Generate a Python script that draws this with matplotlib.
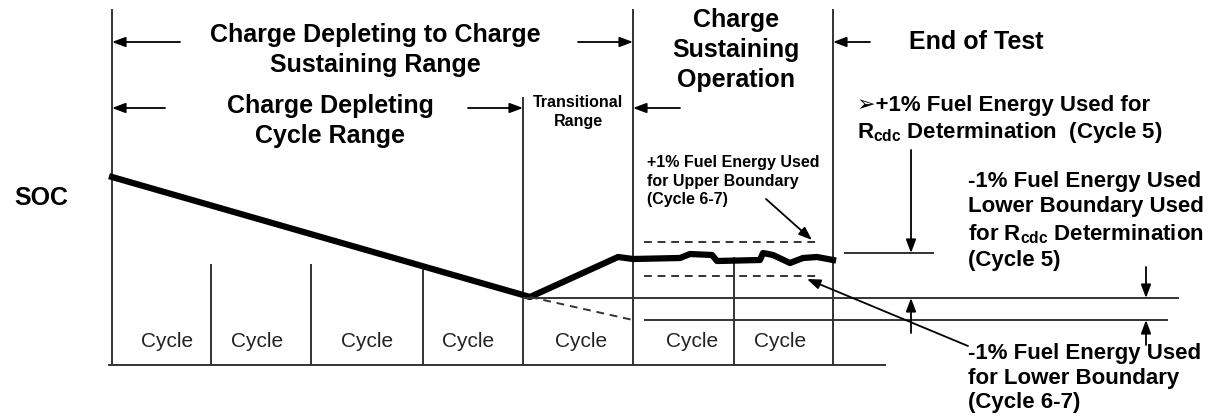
import matplotlib.pyplot as plt

plt.rcParams['font.family'] = ['Liberation Sans', 'DejaVu Sans']
plt.rcParams['mathtext.fontset'] = 'custom'
plt.rcParams['mathtext.rm'] = 'Liberation Sans:bold'
plt.rcParams['mathtext.it'] = 'Liberation Sans:bold'

# SOC trace (pixel-like diagram coordinates, y grows downward)
soc_x = [112, 530, 618, 633, 680, 690, 712, 717, 760, 763, 773, 790, 803, 817, 833]
soc_y = [177, 297, 257, 259, 258, 254, 255, 261, 260, 253, 255, 263, 258, 257, 260]

# region boundaries
x_start, x_trans, x_cs, x_end = 112, 523, 633, 833
base_y = 365
cd_dividers = [211, 311, 423]
cd_div_top = [265, 265, 270]
cs_dividers = [734]
cycle_x = [167, 257, 367, 468, 581, 692, 780]

# boundary levels
upper_dash, lower_dash = 242, 276
rcdc_upper, rcdc_mid, rcdc_lower = 253, 298, 320

fig = plt.figure(figsize=(12.09, 4.19), dpi=100)
ax = fig.add_axes([0, 0, 1, 1])
ax.set_xlim(0, 1209)
ax.set_ylim(419, 0)
ax.axis('off')

lc = '#333333'
lw = 1.4
# frame lines
ax.plot([x_start, x_start], [10, base_y], color=lc, lw=lw)
ax.plot([x_start - 3, 885], [base_y, base_y], color=lc, lw=lw)
ax.plot([x_trans, x_trans], [98, base_y], color=lc, lw=lw)
ax.plot([x_cs, x_cs], [10, base_y], color=lc, lw=lw)
ax.plot([x_end, x_end], [10, base_y], color=lc, lw=lw)
for xd, yt in zip(cd_dividers, cd_div_top):
    ax.plot([xd, xd], [yt, base_y], color=lc, lw=lw)
for xd in cs_dividers:
    ax.plot([xd, xd], [258, base_y], color=lc, lw=lw)

# SOC curve
ax.plot(soc_x, soc_y, color='black', lw=4.5, solid_joinstyle='round')
ax.plot([soc_x[1], x_cs], [soc_y[1], rcdc_lower], color=lc, lw=lw, ls=(0, (4, 3)))

# boundaries
ax.plot([644, 820], [upper_dash, upper_dash], color=lc, lw=lw, ls=(0, (4, 3)))
ax.plot([644, 820], [lower_dash, lower_dash], color=lc, lw=lw, ls=(0, (4, 3)))
ax.plot([845, 933], [rcdc_upper, rcdc_upper], color=lc, lw=lw)
ax.plot([x_trans, 1178], [rcdc_mid, rcdc_mid], color=lc, lw=lw)
ax.plot([645, 1167], [rcdc_lower, rcdc_lower], color=lc, lw=lw)

arr = dict(arrowstyle='-|>,head_length=0.8,head_width=0.3', color='black', lw=1.3, shrinkA=0, shrinkB=0)
def arrow(x0, y0, x1, y1):
    ax.annotate('', xy=(x1, y1), xytext=(x0, y0), arrowprops=arr)

# range arrows
arrow(180, 42, x_start, 42)
arrow(578, 42, x_cs, 42)
arrow(165, 108, x_start, 108)
arrow(468, 108, x_trans, 108)
arrow(680, 108, x_cs, 108)
arrow(870, 42, x_end, 42)
# boundary arrows
arrow(911, 150, 911, rcdc_upper)
arrow(911, 333, 911, rcdc_mid)
arrow(1146, 267, 1146, rcdc_mid)
arrow(1146, 345, 1146, rcdc_lower)
arrow(766, 199, 812, 240)
arrow(968, 346, 807, 279)

bold = dict(fontweight='bold', color='black')
ax.text(375, 50, 'Charge Depleting to Charge\nSustaining Range', ha='center', va='center',
        fontsize=18, linespacing=1.32, **bold)
ax.text(330, 121, 'Charge Depleting\nCycle Range', ha='center', va='center',
        fontsize=18, linespacing=1.32, **bold)
ax.text(578, 112, 'Transitional\nRange', ha='center', va='center', fontsize=11.5,
        linespacing=1.35, **bold)
ax.text(736, 50, 'Charge\nSustaining\nOperation', ha='center', va='center', fontsize=18,
        linespacing=1.32, **bold)
ax.text(976, 42, 'End of Test', ha='center', va='center', fontsize=18, **bold)
ax.text(41, 198, 'SOC', ha='center', va='center', fontsize=18, **bold)
ax.text(647, 181, '+1% Fuel Energy Used\nfor Upper Boundary\n(Cycle 6-7)', ha='left',
        va='center', fontsize=11.5, linespacing=1.3, **bold)
ax.text(857, 120, '\u27a2+1% Fuel Energy Used for\nR$_{cdc}$ Determination  (Cycle 5)',
        ha='left', va='center', fontsize=16, linespacing=1.25, **bold)
ax.text(968, 221, '-1% Fuel Energy Used\nLower Boundary Used\nfor R$_{cdc}$ Determination\n(Cycle 5)',
        ha='left', va='center', fontsize=16, linespacing=1.25, **bold)
ax.text(968, 378, '-1% Fuel Energy Used\nfor Lower Boundary\n(Cycle 6-7)', ha='left',
        va='center', fontsize=16, linespacing=1.2, **bold)

for cx in cycle_x:
    ax.text(cx, 341, 'Cycle', ha='center', va='center', fontsize=15, color='#222222')

fig.savefig('out.png', dpi=100)
